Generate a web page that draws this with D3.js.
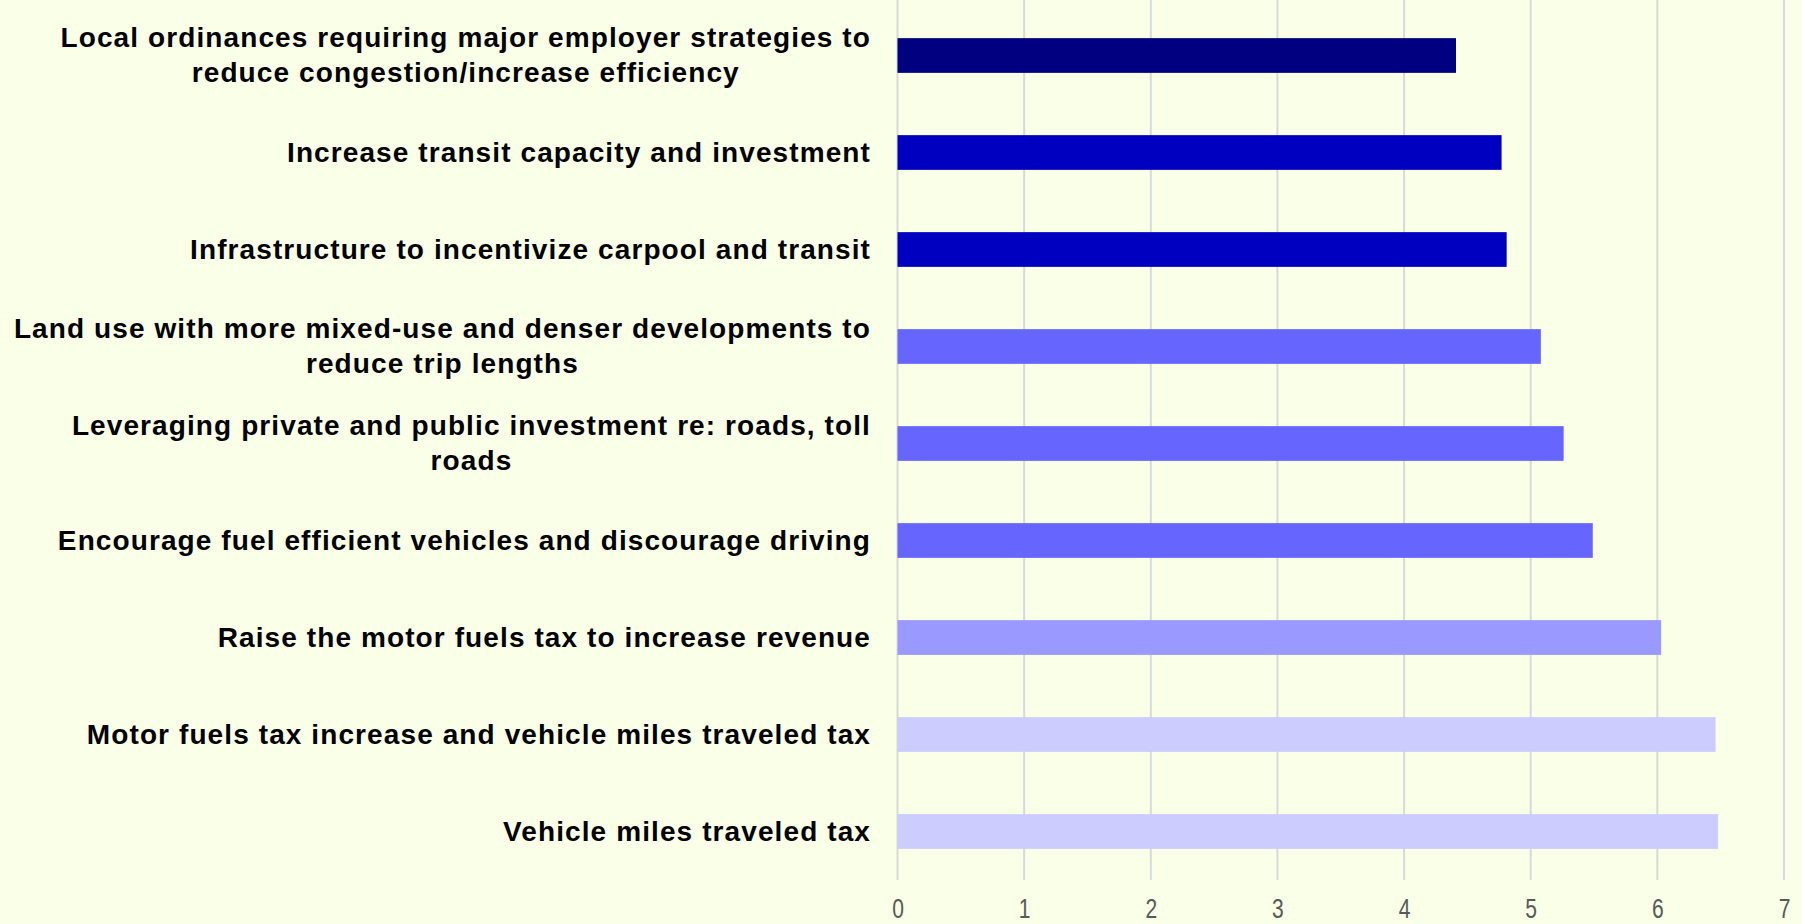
<!DOCTYPE html>
<html>
<head>
<meta charset="utf-8">
<title>Strategies</title>
<script src="https://cdn.jsdelivr.net/npm/d3@7"></script>
<style>
  html, body { margin: 0; padding: 0; background: #FAFFE8; }
  svg { display: block; }
  .lbl { font-family: "Liberation Sans", Arial, sans-serif; font-weight: bold; font-size: 28px; fill: #000; letter-spacing: 1.1px; }
  .tick text { font-family: "Liberation Sans", Arial, sans-serif; font-size: 27px; fill: #595959; }
</style>
</head>
<body>
<script>
  // categories, top to bottom (lines split where the reference wraps)
  var categories = [
    ["Local ordinances requiring major employer strategies to", "reduce congestion/increase efficiency"],
    ["Increase transit capacity and investment"],
    ["Infrastructure to incentivize carpool and transit"],
    ["Land use with more mixed-use and denser developments to", "reduce trip lengths"],
    ["Leveraging private and public investment re: roads, toll", "roads"],
    ["Encourage fuel efficient vehicles and discourage driving"],
    ["Raise the motor fuels tax to increase revenue"],
    ["Motor fuels tax increase and vehicle miles traveled tax"],
    ["Vehicle miles traveled tax"]
  ];
  var values = [4.41, 4.77, 4.81, 5.08, 5.26, 5.49, 6.03, 6.46, 6.48];
  var colors = ["#000080", "#0000C0", "#0000C0", "#6666FF", "#6666FF", "#6666FF", "#9999FF", "#CCCCFF", "#CCCCFF"];
  var ticks = [0, 1, 2, 3, 4, 5, 6, 7];

  var width = 1802, height = 924;
  var plotLeft = 897.5, plotRight = 1784, plotTop = 7, plotBottom = 880;

  var svg = d3.select("body").append("svg")
    .attr("width", width)
    .attr("height", height);

  var x = d3.scaleLinear().domain([0, 7]).range([plotLeft, plotRight]);
  var y = d3.scaleBand().domain(d3.range(categories.length)).range([plotTop, plotBottom]).paddingInner(0.642).paddingOuter(0.321);

  // gridlines
  svg.append("g")
    .selectAll("line")
    .data(ticks)
    .join("line")
    .attr("x1", d => x(d)).attr("x2", d => x(d))
    .attr("y1", 0).attr("y2", plotBottom)
    .attr("stroke", "#D9D9D9")
    .attr("stroke-width", 2);

  // x axis labels
  var ax = svg.append("g")
    .attr("transform", "translate(0," + plotBottom + ")")
    .call(d3.axisBottom(x).tickValues(ticks).tickSize(0).tickPadding(19).tickFormat(d3.format("d")));
  ax.select(".domain").remove();
  ax.selectAll(".tick text")
    .attr("font-size", null).attr("font-family", null)
    .attr("transform", "scale(0.78,1)")
    .attr("dy", "0.72em");

  // bars
  svg.append("g")
    .selectAll("rect")
    .data(values)
    .join("rect")
    .attr("x", x(0))
    .attr("y", (d, i) => y(i))
    .attr("width", d => x(d) - x(0))
    .attr("height", y.bandwidth())
    .attr("fill", (d, i) => colors[i]);

  // category labels: block right-aligned, lines centered in block
  var textRight = 871, lineH = 34.5;
  categories.forEach(function (lines, i) {
    var cy = y(i) + y.bandwidth() / 2;
    var g = svg.append("g");
    var ts = lines.map(function (s, k) {
      return g.append("text").attr("class", "lbl")
        .attr("y", cy + (k - (lines.length - 1) / 2) * lineH)
        .attr("dy", "0.33em")
        .attr("text-anchor", "middle")
        .text(s);
    });
    var w = d3.max(ts, t => t.node().getComputedTextLength());
    ts.forEach(t => t.attr("x", textRight - w / 2));
  });
</script>
</body>
</html>
